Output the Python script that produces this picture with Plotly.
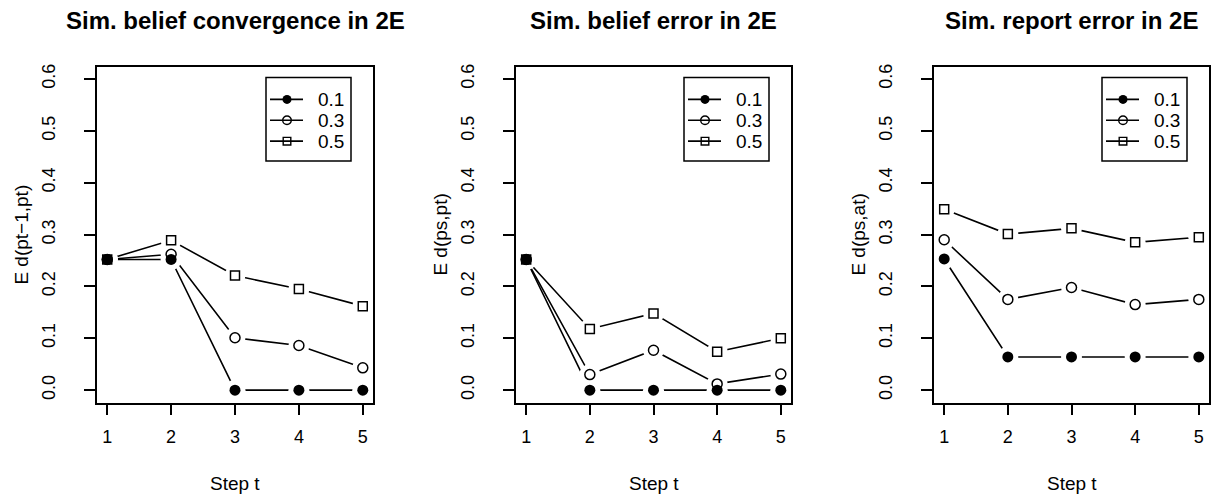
import plotly.graph_objects as go

# Simulation results: expected distances over steps t = 1..5 for three noise levels
steps = [1, 2, 3, 4, 5]
levels = ["0.1", "0.3", "0.5"]

conv_01 = [0.252, 0.252, 0.0, 0.0, 0.0]
conv_03 = [0.252, 0.262, 0.101, 0.086, 0.043]
conv_05 = [0.252, 0.289, 0.221, 0.195, 0.162]

belief_01 = [0.252, 0.0, 0.0, 0.0, 0.0]
belief_03 = [0.252, 0.030, 0.077, 0.012, 0.031]
belief_05 = [0.252, 0.118, 0.148, 0.074, 0.100]

report_01 = [0.253, 0.064, 0.064, 0.064, 0.064]
report_03 = [0.290, 0.175, 0.198, 0.165, 0.175]
report_05 = [0.349, 0.301, 0.312, 0.285, 0.295]

titles = ["Sim. belief convergence in 2E", "Sim. belief error in 2E", "Sim. report error in 2E"]
ylabels = ["E d(pt\u22121,pt)", "E d(ps,pt)", "E d(ps,at)"]
xlabel = "Step t"
y_ticks = [0.0, 0.1, 0.2, 0.3, 0.4, 0.5, 0.6]

panels = [
    [conv_01, conv_03, conv_05],
    [belief_01, belief_03, belief_05],
    [report_01, report_03, report_05],
]

W, H = 1220, 498
FONT = "Liberation Sans, Arial, Helvetica, sans-serif"

# plot-region placement in pixels (left, right), shared top/bottom
x_px = [(97, 373), (516, 791), (934, 1209)]
top_px, bottom_px = 64, 402

styles = {
    "0.1": dict(symbol="circle", size=11, color="black", line=dict(width=0, color="black")),
    "0.3": dict(symbol="circle-open", size=10, color="black", line=dict(width=1.5, color="black")),
    "0.5": dict(symbol="square-open", size=9, color="black", line=dict(width=1.5, color="black")),
}


def px(x, y):
    """Pixel position -> paper coordinates."""
    return x / W, 1 - y / H


fig = go.Figure()
annotations = []
shapes = []

for i, series in enumerate(panels):
    n = "" if i == 0 else str(i + 1)
    xa, ya = "x" + n, "y" + n

    # connecting lines
    for lvl, vals in zip(levels, series):
        fig.add_trace(go.Scatter(x=steps, y=vals, mode="lines", xaxis=xa, yaxis=ya,
                                 line=dict(color="black", width=1.6),
                                 showlegend=False, hoverinfo="skip"))
    # white halos leave a gap between line and point
    for lvl, vals in zip(levels, series):
        fig.add_trace(go.Scatter(x=steps, y=vals, mode="markers", xaxis=xa, yaxis=ya,
                                 marker=dict(symbol="circle", size=21, color="white",
                                             line=dict(width=0)),
                                 showlegend=False, hoverinfo="skip"))
    # point symbols (draw 0.5 first so the filled dots stay on top)
    for lvl, vals in reversed(list(zip(levels, series))):
        fig.add_trace(go.Scatter(x=steps, y=vals, mode="markers", xaxis=xa, yaxis=ya,
                                 marker=styles[lvl], showlegend=False, name=lvl))

    x0, x1 = x_px[i]
    dom_x = [x0 / W, x1 / W]
    dom_y = [1 - bottom_px / H, 1 - top_px / H]
    axis_common = dict(showline=True, linecolor="black", linewidth=1.5, mirror=True,
                       ticks="outside", ticklen=11, tickwidth=1.5, tickcolor="black",
                       showgrid=False, zeroline=False,
                       tickfont=dict(family=FONT, size=18, color="black"))
    fig.update_layout(**{
        "xaxis" + n: dict(domain=dom_x, range=[0.84, 5.16], tickvals=steps,
                          ticklabelstandoff=6, anchor=ya, **axis_common),
        "yaxis" + n: dict(domain=dom_y, range=[-0.024, 0.624], tickvals=y_ticks,
                          ticktext=[f"{v:.1f}" for v in y_ticks], tickangle=-90,
                          ticklabelstandoff=22, anchor=xa, **axis_common),
    })

    # legend box in the top-right corner of the panel
    bx1 = x1 - 22
    bx0 = bx1 - 85
    by0, by1 = 75, 159
    lx0, ly0 = px(bx0, by1)
    lx1, ly1 = px(bx1, by0)
    shapes.append(dict(type="rect", xref="paper", yref="paper", x0=lx0, x1=lx1, y0=ly0, y1=ly1,
                       line=dict(color="black", width=1.5), fillcolor="white", layer="above"))
    for k, lvl in enumerate(levels):
        ry = 97 + 21 * k
        sx0, sx1, cx_sym = bx0 + 4, bx0 + 37, bx0 + 21
        a, b = px(sx0, ry)
        c, _ = px(sx1, ry)
        shapes.append(dict(type="line", xref="paper", yref="paper", x0=a, x1=c, y0=b, y1=b,
                           line=dict(color="black", width=1.6), layer="above"))
        r = {"0.1": 4.5, "0.3": 4.3, "0.5": 3.8}[lvl]
        p0 = px(cx_sym - r, ry + r)
        p1 = px(cx_sym + r, ry - r)
        if lvl == "0.5":
            shapes.append(dict(type="rect", xref="paper", yref="paper",
                               x0=p0[0], x1=p1[0], y0=p0[1], y1=p1[1],
                               line=dict(color="black", width=1.4), fillcolor="rgba(0,0,0,0)",
                               layer="above"))
        else:
            filled = lvl == "0.1"
            shapes.append(dict(type="circle", xref="paper", yref="paper",
                               x0=p0[0], x1=p1[0], y0=p0[1], y1=p1[1],
                               line=dict(color="black", width=0 if filled else 1.4),
                               fillcolor="black" if filled else "rgba(0,0,0,0)",
                               layer="above"))
        tx, ty = px(bx0 + 50, ry)
        annotations.append(dict(text=lvl, x=tx, y=ty, xref="paper", yref="paper",
                                showarrow=False, xanchor="left", yanchor="middle",
                                font=dict(family=FONT, size=19, color="black")))

    cx = (x0 + x1) / 2 / W
    annotations.append(dict(text="<b>" + titles[i] + "</b>", x=cx, y=1 - 18 / H,
                            xref="paper", yref="paper", showarrow=False,
                            xanchor="center", yanchor="middle",
                            font=dict(family=FONT, size=24, color="black")))
    annotations.append(dict(text=xlabel, x=cx, y=1 - 483 / H, xref="paper", yref="paper",
                            showarrow=False, xanchor="center", yanchor="middle",
                            font=dict(family=FONT, size=19, color="black")))
    annotations.append(dict(text=ylabels[i], x=(x0 - 75) / W,
                            y=1 - (top_px + bottom_px) / 2 / H,
                            xref="paper", yref="paper", showarrow=False, textangle=-90,
                            xanchor="center", yanchor="middle",
                            font=dict(family=FONT, size=19, color="black")))

fig.update_layout(width=W, height=H, margin=dict(l=0, r=0, t=0, b=0),
                  paper_bgcolor="white", plot_bgcolor="white",
                  annotations=annotations, shapes=shapes, showlegend=False)

fig.write_html("out.html")
